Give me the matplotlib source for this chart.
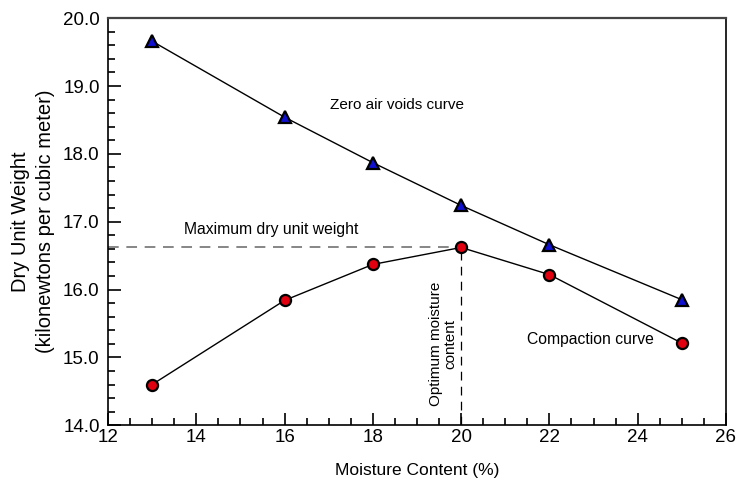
import matplotlib
matplotlib.use("Agg")
import matplotlib.pyplot as plt
from matplotlib.ticker import MultipleLocator

plt.rcParams['font.family'] = ['Liberation Sans', 'DejaVu Sans']

# moisture content (%) and dry unit weight (kN/m^3)
moisture = [13, 16, 18, 20, 22, 25]
zero_air_voids = [19.66, 18.54, 17.87, 17.24, 16.66, 15.85]
compaction = [14.60, 15.84, 16.37, 16.62, 16.22, 15.21]

opt_moisture = 20
max_dry_weight = 16.62

fig = plt.figure(figsize=(7.4, 4.91), dpi=100)
ax = fig.add_axes([0.146, 0.134, 0.835, 0.829])

# guide lines to the optimum point
ax.plot([12, opt_moisture], [max_dry_weight, max_dry_weight], color='#666666',
        lw=1.1, dashes=(7, 5), zorder=1)
ax.plot([opt_moisture, opt_moisture], [14, max_dry_weight], color='black',
        lw=0.9, dashes=(7, 5), zorder=1)

ax.plot(moisture, zero_air_voids, color='black', lw=1, marker='^', ms=8,
        mfc='#1010d0', mec='black', mew=1.6, zorder=3)
ax.plot(moisture, compaction, color='black', lw=1, marker='o', ms=8,
        mfc='#e00010', mec='black', mew=1.6, zorder=3)

ax.text(18.55, 18.72, 'Zero air voids curve', fontsize=11, ha='center', va='center')
ax.text(15.7, 16.88, 'Maximum dry unit weight', fontsize=11.3, ha='center', va='center')
ax.text(22.92, 15.26, 'Compaction curve', fontsize=11.3, ha='center', va='center')
ax.text(19.59, 15.2, 'Optimum moisture\ncontent', fontsize=11, ha='center',
        va='center', rotation=90, linespacing=1.05)

ax.set_xlim(12, 26)
ax.set_ylim(14, 20)
ax.xaxis.set_major_locator(MultipleLocator(2))
ax.xaxis.set_minor_locator(MultipleLocator(0.5))
ax.yaxis.set_major_locator(MultipleLocator(1))
ax.yaxis.set_minor_locator(MultipleLocator(0.2))
ax.yaxis.set_major_formatter(plt.FormatStrFormatter('%.1f'))
ax.tick_params(which='both', direction='in', top=False, right=False, labelsize=13.5)
ax.tick_params(which='major', length=9, width=1.2)
ax.tick_params(which='minor', length=5, width=1.2)
ax.tick_params(axis='x', pad=3)
ax.tick_params(axis='y', pad=6)

ax.spines['top'].set_color('#444444')
ax.spines['top'].set_linewidth(1.6)
for s in ['left', 'bottom', 'right']:
    ax.spines[s].set_linewidth(1.2)

ax.set_xlabel('Moisture Content (%)', fontsize=12.5, labelpad=12)
ax.set_ylabel('Dry Unit Weight\n(kilonewtons per cubic meter)', fontsize=14.5,
              labelpad=6, linespacing=1.4)

fig.savefig('out.png', dpi=100)
